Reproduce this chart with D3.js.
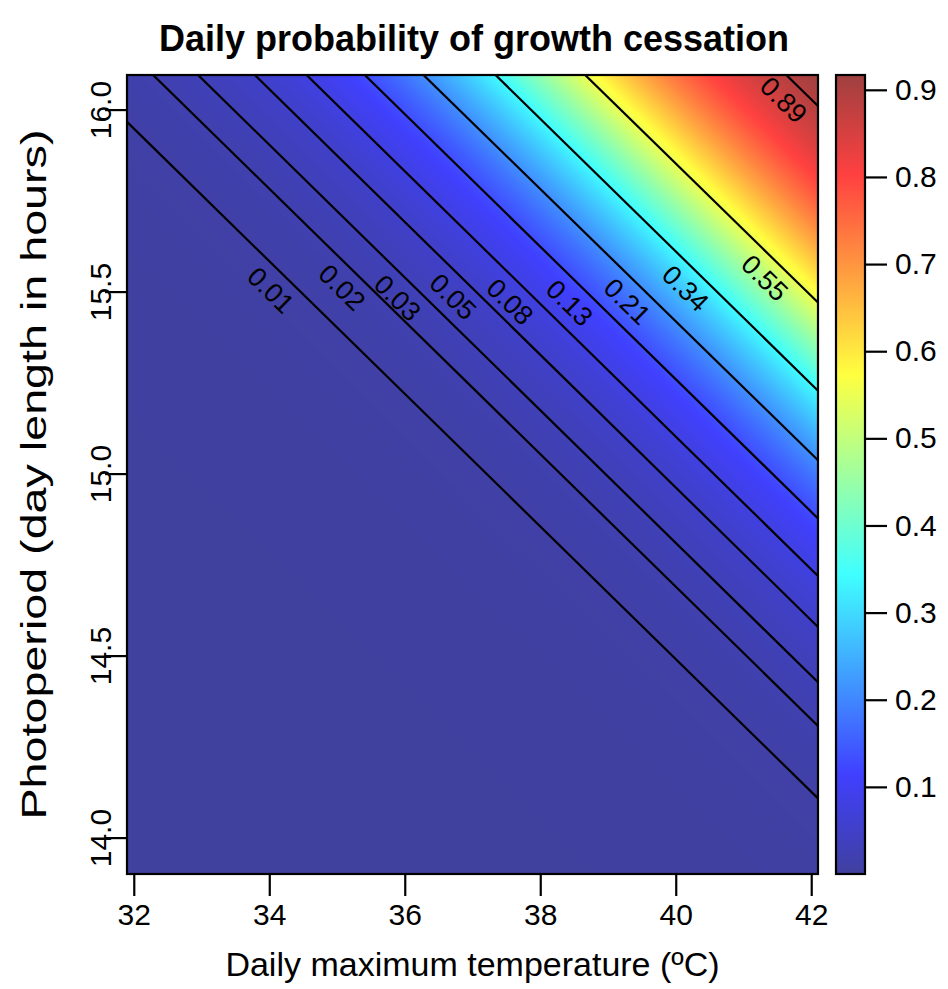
<!DOCTYPE html>
<html><head><meta charset="utf-8">
<script src="https://cdn.jsdelivr.net/npm/d3@7"></script>
<style>body{margin:0;background:#fff} svg text{font-family:"Liberation Sans", Arial, Helvetica, sans-serif;fill:#000}</style>
</head><body><svg id="chart" width="948" height="989"></svg>
<script>
// ---- data ----
const contourLevels = [0.01, 0.02, 0.03, 0.05, 0.08, 0.13, 0.21, 0.34, 0.55, 0.89];
const contourLabels = ["0.01","0.02","0.03","0.05","0.08","0.13","0.21","0.34","0.55","0.89"];
// photoperiod (h) where each contour line sits at 32 °C and at 42 °C
const photoAt32 = [15.948, 16.147, 16.268, 16.421, 16.560, 16.716, 16.872, 17.068, 17.307, 17.850];
const photoAt42 = [14.126, 14.325, 14.445, 14.597, 14.737, 14.895, 15.055, 15.246, 15.488, 16.028];
// temperature at which each contour label sits
const labelTemp = [34.02, 35.07, 35.89, 36.71, 37.55, 38.43, 39.28, 40.14, 41.31, 41.59];
const tempDomain = [31.9, 42.1];
const photoDomain = [13.9, 16.095];
const valueRange = [0, 0.917];
const xTicks = [32, 34, 36, 38, 40, 42];
const yTicks = [14.0, 14.5, 15.0, 15.5, 16.0];
const legendTicks = [0.1, 0.2, 0.3, 0.4, 0.5, 0.6, 0.7, 0.8, 0.9];
const paletteColors = ["#00007F", "#0000FF", "#007FFF", "#00FFFF", "#7FFF7F", "#FFFF00", "#FF7F00", "#FF0000", "#7F0000"];
const paletteAlpha = 0.75;

// ---- layout ----
const plot = {left: 127, right: 818, top: 75, bottom: 874};
const leg = {left: 836, right: 865};
const svg = d3.select("#chart");
const defs = svg.append("defs");

const x = d3.scaleLinear().domain(tempDomain).range([plot.left, plot.right]);
const y = d3.scaleLinear().domain(photoDomain).range([plot.bottom, plot.top]);

const blended = paletteColors.map(c => d3.interpolateRgb("#ffffff", c)(paletteAlpha));
const color = d3.scaleLinear()
  .domain(blended.map((_, i) => valueRange[0] + i / (blended.length - 1) * (valueRange[1] - valueRange[0])))
  .range(blended).clamp(true);

// ---- field fill: gradient perpendicular to the (parallel) contour lines ----
const A = contourLevels.map((_, i) => [x(32), y(photoAt32[i])]);
const B = contourLevels.map((_, i) => [x(42), y(photoAt42[i])]);
let dx = d3.mean(A, (a, i) => B[i][0] - a[0]);
let dy = d3.mean(A, (a, i) => B[i][1] - a[1]);
const dl = Math.hypot(dx, dy);
const n = [dy / dl, -dx / dl];
const proj = p => p[0] * n[0] + p[1] * n[1];
const sLevels = A.map((a, i) => proj([(a[0] + B[i][0]) / 2, (a[1] + B[i][1]) / 2]));
const logit = p => Math.log(p / (1 - p));
const sToLogit = d3.scaleLinear().domain(sLevels).range(contourLevels.map(logit));
const corners = [[plot.left, plot.top], [plot.right, plot.top], [plot.left, plot.bottom], [plot.right, plot.bottom]];
const sMin = d3.min(corners, proj), sMax = d3.max(corners, proj);
const grad = defs.append("linearGradient").attr("id", "field").attr("gradientUnits", "userSpaceOnUse")
  .attr("x1", n[0] * sMin).attr("y1", n[1] * sMin).attr("x2", n[0] * sMax).attr("y2", n[1] * sMax);
const NS = 400;
for (let k = 0; k <= NS; k++) {
  const s = sMin + k / NS * (sMax - sMin);
  const p = 1 / (1 + Math.exp(-sToLogit(s)));
  grad.append("stop").attr("offset", k / NS).attr("stop-color", color(p));
}
defs.append("clipPath").attr("id", "plotClip").append("rect")
  .attr("x", plot.left).attr("y", plot.top).attr("width", plot.right - plot.left).attr("height", plot.bottom - plot.top);

svg.append("rect").attr("x", plot.left).attr("y", plot.top)
  .attr("width", plot.right - plot.left).attr("height", plot.bottom - plot.top)
  .attr("fill", "url(#field)");

// ---- contour lines ----
const angle = Math.atan2(dy, dx) * 180 / Math.PI;
const gLines = svg.append("g").attr("clip-path", "url(#plotClip)");
contourLevels.forEach((lv, i) => {
  const along = d3.scaleLinear().domain([32, 42]).range([photoAt32[i], photoAt42[i]]);
  const pts = [tempDomain[0] - 0.5, tempDomain[1] + 0.5].map(t => [t, along(t)]);
  gLines.append("path")
    .attr("d", d3.line().x(d => x(d[0])).y(d => y(d[1]))(pts))
    .attr("fill", "none").attr("stroke", "#000").attr("stroke-width", 2.2);
  const lx = x(labelTemp[i]), ly = y(along(labelTemp[i]));
  gLines.append("text")
    .attr("transform", `translate(${lx},${ly + 28}) rotate(${angle})`)
    .attr("text-anchor", "middle").attr("dominant-baseline", "central")
    .attr("font-size", 27).text(contourLabels[i]);
});

// ---- box and axes ----
svg.append("rect").attr("x", plot.left).attr("y", plot.top)
  .attr("width", plot.right - plot.left).attr("height", plot.bottom - plot.top)
  .attr("fill", "none").attr("stroke", "#000").attr("stroke-width", 2.2);

const xAxis = svg.append("g").attr("transform", `translate(0,${plot.bottom})`)
  .call(d3.axisBottom(x).tickValues(xTicks).tickSize(22).tickPadding(8).tickFormat(d3.format("d")));
xAxis.select(".domain").remove();
xAxis.selectAll("line").attr("stroke-width", 2.2);
xAxis.selectAll("text").attr("font-size", 30).attr("font-family", null);

const yAxis = svg.append("g").attr("transform", `translate(${plot.left},0)`)
  .call(d3.axisLeft(y).tickValues(yTicks).tickSize(22).tickFormat(d3.format(".1f")));
yAxis.select(".domain").remove();
yAxis.selectAll("line").attr("stroke-width", 2.2);
yAxis.selectAll("text").attr("font-size", 30).attr("font-family", null)
  .attr("x", null).attr("dy", null)
  .attr("text-anchor", "middle")
  .attr("transform", "translate(-16,0) rotate(-90)");

svg.append("text").attr("x", (plot.left + plot.right) / 2).attr("y", 976)
  .attr("text-anchor", "middle").attr("font-size", 34).text("Daily maximum temperature (ºC)");
svg.append("text").attr("transform", `translate(46,${(plot.top + plot.bottom) / 2}) rotate(-90)`)
  .attr("text-anchor", "middle").attr("font-size", 35)
  .attr("textLength", 690).attr("lengthAdjust", "spacingAndGlyphs")
  .text("Photoperiod (day length in hours)");
svg.append("text").attr("x", 474).attr("y", 51)
  .attr("text-anchor", "middle").attr("font-size", 36).attr("font-weight", "bold")
  .text("Daily probability of growth cessation");

// ---- colour legend ----
const ly2 = d3.scaleLinear().domain(valueRange).range([plot.bottom, plot.top]);
const lgrad = defs.append("linearGradient").attr("id", "legendGrad")
  .attr("x1", 0).attr("y1", 1).attr("x2", 0).attr("y2", 0);
blended.forEach((c, i) => lgrad.append("stop").attr("offset", i / (blended.length - 1)).attr("stop-color", c));
svg.append("rect").attr("x", leg.left).attr("y", plot.top)
  .attr("width", leg.right - leg.left).attr("height", plot.bottom - plot.top)
  .attr("fill", "url(#legendGrad)").attr("stroke", "#000").attr("stroke-width", 2.2);
const lAxis = svg.append("g").attr("transform", `translate(${leg.right},0)`)
  .call(d3.axisRight(ly2).tickValues(legendTicks).tickSize(22).tickPadding(8).tickFormat(d3.format(".1f")));
lAxis.select(".domain").remove();
lAxis.selectAll("line").attr("stroke-width", 2.2);
lAxis.selectAll("text").attr("font-size", 30).attr("font-family", null);
</script></body></html>
